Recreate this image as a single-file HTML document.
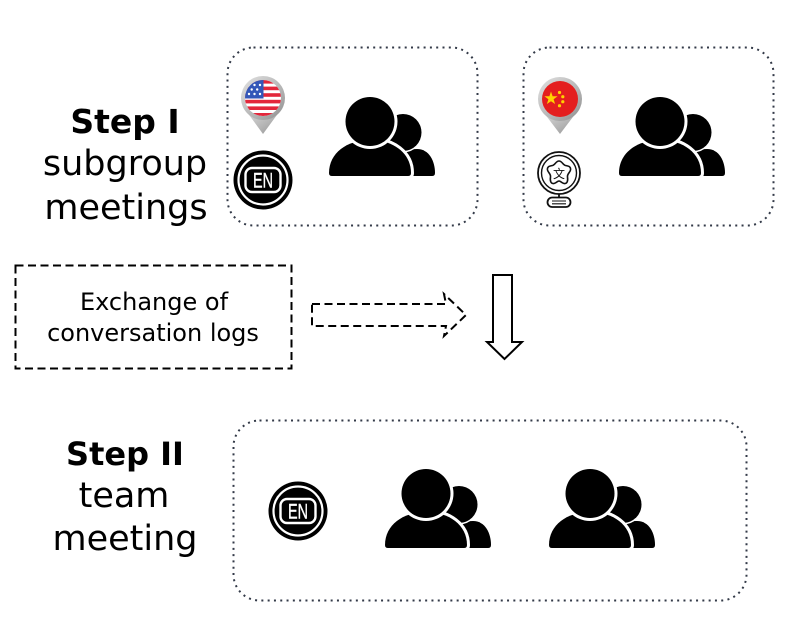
<!DOCTYPE html>
<html><head><meta charset="utf-8"><style>
html,body{margin:0;padding:0;background:#fff;}
svg{display:block;}
</style></head><body>
<svg width="788" height="636" viewBox="0 0 788 636" xmlns="http://www.w3.org/2000/svg">
<defs>
  <g id="ppl">
    <path d="M56,79 C56,62 71,52 88,52 C100,52 106,64 106,76 Q106,79 103,79 Z" fill="#000"/>
    <circle cx="74" cy="35.5" r="20" fill="#fff"/>
    <circle cx="74" cy="35.5" r="18.5" fill="#000"/>
    <path d="M0,76 C0,56 18,43 41,43 C64,43 82,56 82,76 Q82,79 79,79 L3,79 Q0,79 0,76 Z" fill="#fff" stroke="#fff" stroke-width="6"/>
    <path d="M0,76 C0,56 18,43 41,43 C64,43 82,56 82,76 Q82,79 79,79 L3,79 Q0,79 0,76 Z" fill="#000"/>
    <circle cx="41" cy="24.5" r="27.5" fill="#fff"/>
    <circle cx="41" cy="24.5" r="24.5" fill="#000"/>
  </g>
  <g id="en">
    <circle cx="0" cy="0" r="29.5" fill="#000"/>
    <circle cx="0" cy="0" r="24.5" fill="none" stroke="#fff" stroke-width="2.2"/>
    <rect x="-17.5" y="-12" width="35" height="24" rx="6.5" fill="none" stroke="#fff" stroke-width="2.4"/>
    <text x="0" y="7.5" text-anchor="middle" font-family="Liberation Sans, sans-serif" font-size="21" fill="#fff" stroke="#fff" stroke-width="0.4" textLength="20" lengthAdjust="spacingAndGlyphs">EN</text>
  </g>
  <linearGradient id="pinG" x1="0" y1="0" x2="1" y2="1">
    <stop offset="0" stop-color="#e2e2e2"/>
    <stop offset="0.6" stop-color="#b4b4b4"/>
    <stop offset="1" stop-color="#8e8e8e"/>
  </linearGradient>
  <clipPath id="usc"><circle cx="263" cy="98" r="18"/></clipPath>
</defs>

<!-- dotted boxes -->
<rect x="227.5" y="47.5" width="250" height="178" rx="26" fill="none" stroke="#333a48" stroke-width="2" stroke-dasharray="2 4.3"/>
<rect x="523.5" y="47.5" width="250" height="178" rx="26" fill="none" stroke="#333a48" stroke-width="2" stroke-dasharray="2 4.3"/>
<rect x="233.5" y="420.5" width="513" height="180" rx="26" fill="none" stroke="#333a48" stroke-width="2" stroke-dasharray="2 4.3"/>

<!-- Step labels -->
<g font-family="DejaVu Sans, Liberation Sans, sans-serif" text-anchor="middle" fill="#000">
  <text x="125" y="133" font-size="33" font-weight="bold">Step I</text>
  <text x="125" y="175" font-size="35">subgroup</text>
  <text x="126" y="219" font-size="35">meetings</text>
  <text x="125" y="465" font-size="32" font-weight="bold">Step II</text>
  <text x="124" y="507" font-size="35">team</text>
  <text x="125" y="550" font-size="35">meeting</text>
  <text x="154" y="310" font-size="24">Exchange of</text>
  <text x="153" y="341" font-size="24">conversation logs</text>
</g>

<!-- Exchange dashed box -->
<rect x="15.5" y="265.5" width="276" height="103" fill="none" stroke="#000" stroke-width="2" stroke-dasharray="8 4.5"/>

<!-- dashed arrow -->
<path d="M312,304 L446,304 L444,294 L466,315 L444,336 L446,326 L312,326 Z" fill="none" stroke="#000" stroke-width="2" stroke-dasharray="8 4.5"/>

<!-- down arrow -->
<path d="M493,275 L512,275 L512,342 L522,342 L504.5,359 L487,342 L493,342 Z" fill="#fff" stroke="#000" stroke-width="2" stroke-linejoin="miter"/>

<!-- US pin -->
<path d="M244,108 L263,134 L282,108 Z" fill="url(#pinG)"/>
<circle cx="263" cy="98" r="22" fill="url(#pinG)"/>
<g clip-path="url(#usc)">
  <rect x="244" y="79" width="38" height="38" fill="#fff"/>
  <rect x="244" y="80" width="38" height="3.6" fill="#e3263a"/>
  <rect x="244" y="86.6" width="38" height="3.6" fill="#e3263a"/>
  <rect x="244" y="93.2" width="38" height="3.6" fill="#e3263a"/>
  <rect x="244" y="99.8" width="38" height="3.6" fill="#e3263a"/>
  <rect x="244" y="106.4" width="38" height="3.6" fill="#e3263a"/>
  <rect x="244" y="113" width="38" height="3.6" fill="#e3263a"/>
  <rect x="244" y="79" width="19.5" height="19.5" fill="#3457b8"/>
  <g fill="#fff">
    <circle cx="249" cy="85" r="1.2"/><circle cx="254.5" cy="85" r="1.2"/><circle cx="260" cy="85" r="1.2"/>
    <circle cx="251.7" cy="89.5" r="1.2"/><circle cx="257.2" cy="89.5" r="1.2"/>
    <circle cx="249" cy="94" r="1.2"/><circle cx="254.5" cy="94" r="1.2"/><circle cx="260" cy="94" r="1.2"/>
  </g>
</g>

<!-- EN icons -->
<use href="#en" x="263" y="180"/>
<use href="#en" x="298" y="511"/>

<!-- China pin -->
<path d="M541,109 L560,134 L579,109 Z" fill="url(#pinG)"/>
<circle cx="560" cy="99" r="22" fill="url(#pinG)"/>
<circle cx="560" cy="99" r="18" fill="#e41e1e"/>
<g fill="#ffd200">
  <polygon points="551,91.5 552.6,96.2 557.6,96.3 553.6,99.3 555.1,104 551,101.2 546.9,104 548.4,99.3 544.4,96.3 549.4,96.2"/>
  <circle cx="559.5" cy="92.5" r="1.6"/>
  <circle cx="562.8" cy="96.7" r="1.6"/>
  <circle cx="562.8" cy="101.7" r="1.6"/>
  <circle cx="559.5" cy="105.7" r="1.6"/>
</g>

<!-- Chinese language icon -->
<g fill="none" stroke="#111" stroke-width="1.8">
  <circle cx="559" cy="173" r="21"/>
  <circle cx="559" cy="173" r="17.5" stroke-width="1.4"/>
  <path d="M559,161 C562,161 563,165 565.5,165.5 C568.5,166 571,166.5 570.5,170 C570,172.5 567,174 567.5,177 C568,180.5 567.5,184 564,183.5 C561.5,183 560.7,181 559,181 C557.3,181 556.5,183 554,183.5 C550.5,184 550,180.5 550.5,177 C551,174 548,172.5 547.5,170 C547,166.5 549.5,166 552.5,165.5 C555,165 556,161 559,161 Z" stroke-width="1.6"/>
  <path d="M559,194 L559,197.5"/>
  <rect x="547.5" y="197.5" width="23" height="9.5" rx="4.7"/>
  <path d="M552,201 L566,201 M552,203.8 L566,203.8" stroke-width="1.1"/>
</g>
<text x="559" y="178" text-anchor="middle" font-family="Noto Sans CJK SC, WenQuanYi Zen Hei, sans-serif" font-size="12" fill="#111">文</text>

<!-- people icons -->
<use href="#ppl" x="329" y="97"/>
<use href="#ppl" x="619" y="97"/>
<use href="#ppl" x="385" y="469"/>
<use href="#ppl" x="549" y="469"/>
</svg>
</body></html>
